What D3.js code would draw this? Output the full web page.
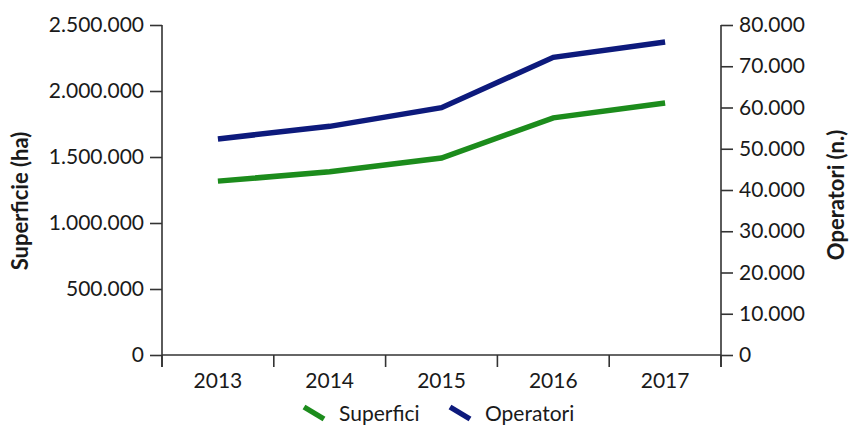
<!DOCTYPE html>
<html lang="it">
  <head>
    <meta charset="utf-8">
    <title>Superficie e operatori</title>
    <style>
      body { margin: 0; background: #fff; }
      text { font-family: Lato, "Open Sans", sans-serif; fill: #1a1a1a; }
    </style>
  </head>
  <body>
<script src="https://d3js.org/d3.v7.min.js"></script>
<script>
// data
var years = ["2013", "2014", "2015", "2016", "2017"];
var superfici = [1317177, 1387913, 1492579, 1796363, 1908653];
var operatori = [52383, 55433, 59959, 72154, 75873];
var leftTicks = [0, 500000, 1000000, 1500000, 2000000, 2500000];
var rightTicks = [0, 10000, 20000, 30000, 40000, 50000, 60000, 70000, 80000];

var W = 850, H = 430;
var margin = {top: 25, right: 129, bottom: 75, left: 162};
var w = W - margin.left - margin.right,
    h = H - margin.top - margin.bottom;

var svg = d3.select("body").append("svg")
  .attr("width", W)
  .attr("height", H);

var g = svg.append("g")
  .attr("transform", "translate(" + margin.left + "," + margin.top + ")");

var x = d3.scaleBand().domain(years).range([0, w]);
var yL = d3.scaleLinear().domain([0, 2500000]).range([h, 0]);
var yR = d3.scaleLinear().domain([0, 80000]).range([h, 0]);

// thousands separated with dots
var fmt = d3.formatLocale({decimal: ",", thousands: ".", grouping: [3], currency: ["", "€"]}).format(",d");

var axisColor = "#333";
var fs = "21px";

function styleAxis(sel) {
  sel.selectAll("path, line").attr("stroke", axisColor).attr("stroke-width", 1.6);
  sel.selectAll("text").style("font-size", fs).attr("fill", "#1a1a1a");
  sel.select(".domain").remove();
}

// left axis
g.append("g")
  .call(d3.axisLeft(yL).tickValues(leftTicks).tickFormat(fmt).tickSize(12).tickPadding(6))
  .call(styleAxis);

// right axis
g.append("g")
  .attr("transform", "translate(" + w + ",0)")
  .call(d3.axisRight(yR).tickValues(rightTicks).tickFormat(fmt).tickSize(12).tickPadding(6))
  .call(styleAxis);

// bottom axis: ticks at band boundaries, labels in the middle
var xAxis = g.append("g")
  .attr("transform", "translate(0," + h + ")");
xAxis.append("line")
  .attr("x1", 0).attr("x2", w)
  .attr("stroke", axisColor).attr("stroke-width", 1.6);
var bounds = years.map(function (d) { return x(d); }).concat([x(years[years.length - 1]) + x.bandwidth()]);
xAxis.selectAll(".xtick")
  .data(bounds)
  .enter().append("line")
    .attr("x1", function (d) { return d; })
    .attr("x2", function (d) { return d; })
    .attr("y1", 0)
    .attr("y2", 12)
    .attr("stroke", axisColor).attr("stroke-width", 1.6);
xAxis.selectAll(".xlabel")
  .data(years)
  .enter().append("text")
    .attr("x", function (d) { return x(d) + x.bandwidth() / 2; })
    .attr("y", 33)
    .attr("text-anchor", "middle")
    .style("font-size", fs)
    .text(function (d) { return d; });

// vertical lines for both y axes
g.append("line").attr("x1", 0).attr("x2", 0).attr("y1", 0).attr("y2", h + 12)
  .attr("stroke", axisColor).attr("stroke-width", 1.6);
g.append("line").attr("x1", w).attr("x2", w).attr("y1", 0).attr("y2", h + 12)
  .attr("stroke", axisColor).attr("stroke-width", 1.6);

// axis titles
svg.append("text")
  .attr("transform", "translate(28," + (margin.top + h / 2 + 11) + ") rotate(-90)")
  .attr("text-anchor", "middle")
  .style("font-size", "22px")
  .style("font-weight", "bold")
  .text("Superficie (ha)");

svg.append("text")
  .attr("transform", "translate(844," + (margin.top + h / 2 + 5) + ") rotate(-90)")
  .attr("text-anchor", "middle")
  .style("font-size", "22px")
  .style("font-weight", "bold")
  .text("Operatori (n.)");

// lines
var green = "#1c8c1c", navy = "#0d1a7c";
var cx = function (i) { return x(years[i]) + x.bandwidth() / 2; };

var lineL = d3.line().x(function (d, i) { return cx(i); }).y(function (d) { return yL(d); });
var lineR = d3.line().x(function (d, i) { return cx(i); }).y(function (d) { return yR(d); });

g.append("path")
  .datum(superfici)
  .attr("d", lineL)
  .attr("fill", "none")
  .attr("stroke", green)
  .attr("stroke-width", 5.5);

g.append("path")
  .datum(operatori)
  .attr("d", lineR)
  .attr("fill", "none")
  .attr("stroke", navy)
  .attr("stroke-width", 5.5);

// legend
var legend = svg.append("g").attr("transform", "translate(302,413)");
var items = [{name: "Superfici", color: green, dx: 0}, {name: "Operatori", color: navy, dx: 146}];
var li = legend.selectAll("g").data(items).enter().append("g")
  .attr("transform", function (d) { return "translate(" + d.dx + ",0)"; });
li.append("line")
  .attr("x1", 2).attr("y1", -6).attr("x2", 22).attr("y2", 6)
  .attr("stroke", function (d) { return d.color; })
  .attr("stroke-width", 5.5);
li.append("text")
  .attr("x", 37)
  .attr("y", 8)
  .style("font-size", fs)
  .text(function (d) { return d.name; });
</script>
  </body>
</html>
